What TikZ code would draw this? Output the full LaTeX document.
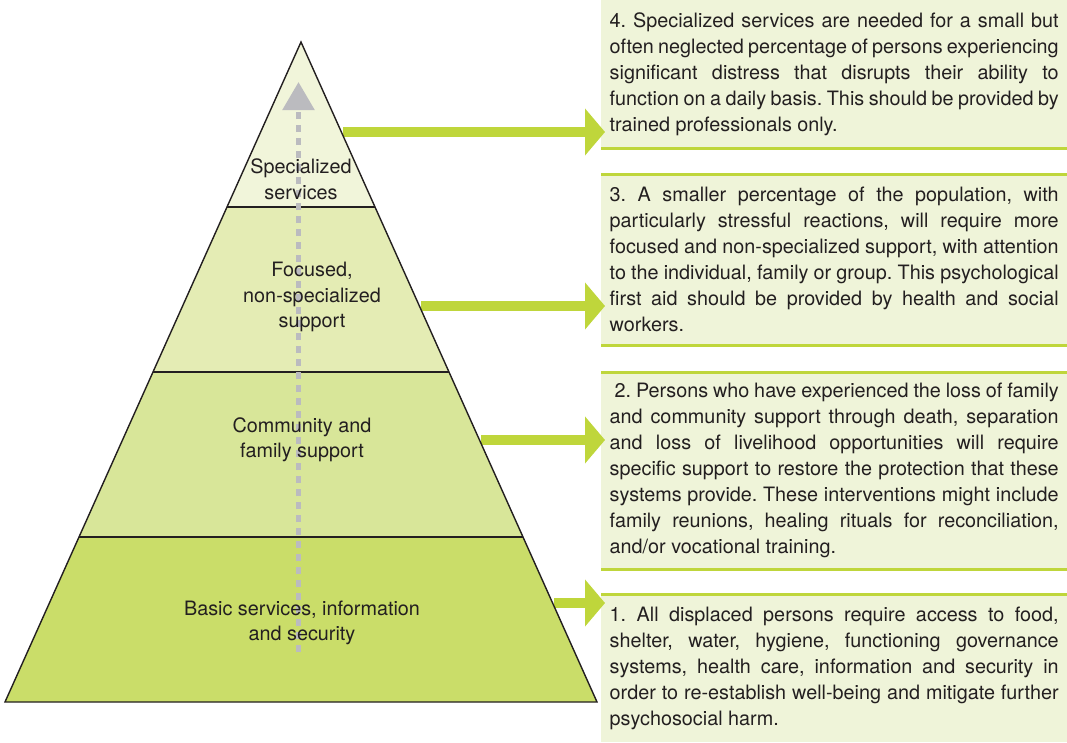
\documentclass[tikz,border=0pt]{standalone}
\usepackage{fontspec}
\setmainfont{TeX Gyre Heros}
\usetikzlibrary{arrows.meta, positioning, calc}
\definecolor{lvlone}{HTML}{F1F5DA}
\definecolor{lvltwo}{HTML}{E4ECB4}
\definecolor{lvlthree}{HTML}{D8E699}
\definecolor{lvlfour}{HTML}{CADD69}
\definecolor{boxfill}{HTML}{EFF4D9}
\definecolor{limegreen}{HTML}{BFD63B}
\definecolor{arrowgray}{HTML}{BBBBBF}
\definecolor{inkgray}{HTML}{231F20}
\frenchspacing

\begin{document}
\begin{tikzpicture}[
    x=1pt, y=-1pt,
    tier/.style={draw=inkgray, line width=1.4pt},
    tierlabel/.style={font=\fontsize{19.8}{25.5}\selectfont, text=inkgray, align=center, inner sep=0pt},
    infobox/.style={anchor=north west, fill=boxfill, minimum width=466pt, text width=449pt, inner xsep=8pt, align=justify, font=\fontsize{19.8}{26}\selectfont, text=inkgray,
        execute at begin node={\frenchspacing\hyphenpenalty=10000\exhyphenpenalty=10000}},
    rule/.style={limegreen, line width=3pt},
    arrow/.style={-{Triangle[length=20pt, width=46pt]}, line width=10pt, limegreen}
]
\useasboundingbox (0,0) rectangle (1067,742);

% Pyramid corners
\coordinate (apex) at (301,42);
\coordinate (bl) at (5,702);
\coordinate (br) at (597,702);

% Tiers, widest first
\foreach \t/\col in {1/lvlfour, 0.75/lvlthree, 0.5/lvltwo, 0.25/lvlone} {
    \fill[\col] (apex) -- ($(apex)!\t!(bl)$) -- ($(apex)!\t!(br)$) -- cycle;
}

% Text boxes
\node[infobox, minimum height=148pt] (b4) at (601,0)
    {4. Specialized services are needed for a small but\linebreak
     often neglected percentage of persons experiencing\linebreak
     significant distress that disrupts their ability to\linebreak
     function on a daily basis. This should be provided by\linebreak
     trained professionals only.};
\node[infobox, minimum height=171pt] (b3) at (601,174)
    {3. A smaller percentage of the population, with\linebreak
     particularly stressful reactions, will require more\linebreak
     focused and non-specialized support, with attention\linebreak
     to the individual, family or group. This psychological\linebreak
     first aid should be provided by health and social\linebreak
     workers.};
\node[infobox, minimum height=197pt] (b2) at (601,372)
    {\hspace*{.25em}2. Persons who have experienced the loss of family\linebreak
     and community support through death, separation\linebreak
     and loss of livelihood opportunities will require\linebreak
     specific support to restore the protection that these\linebreak
     systems provide. These interventions might include\linebreak
     family reunions, healing rituals for reconciliation,\linebreak
     and/or vocational training.};
\node[infobox, minimum height=148pt] (b1) at (601,594)
    {1. All displaced persons require access to food,\linebreak
     shelter, water, hygiene, functioning governance\linebreak
     systems, health care, information and security in\linebreak
     order to re-establish well-being and mitigate further\linebreak
     psychosocial harm.};

% Green rules
\draw[rule] (b4.south west) -- (b4.south east);
\foreach \b in {b3, b2} {
    \draw[rule] (\b.north west) -- (\b.north east);
    \draw[rule] (\b.south west) -- (\b.south east);
}
\draw[rule] (b1.north west) -- (b1.north east);

% Arrows from tiers to boxes
\coordinate (a4) at (343,132);
\coordinate (a3) at (421,306);
\coordinate (a2) at (481,440);
\coordinate (a1) at (554,603);
\foreach \a/\b in {a4/b4, a3/b3, a2/b2, a1/b1} {
    \draw[arrow] (\a) -- ([xshift=4pt]\a -| \b.west);
}

% Outline and dividers
\foreach \t in {0.25, 0.5, 0.75} {
    \draw[tier] ($(apex)!\t!(bl)$) -- ($(apex)!\t!(br)$);
}
\draw[tier] (apex) -- (bl) -- (br) -- cycle;

% Upward gray arrow
\coordinate (up0) at (298.5,652);
\coordinate (up1) at (298.5,82);
\draw[arrowgray, line width=5.5pt, dash pattern=on 7pt off 6pt, -{Triangle[length=28pt, width=31pt]}] (up0) -- (up1);

% Tier labels
\node[tierlabel] (l4) at (301,179) {Specialized\\services};
\node[tierlabel] (l3) at (312,297) {Focused,\\non-specialized\\support};
\node[tierlabel] (l2) at (302,440) {Community and\\family support};
\node[tierlabel] (l1) at (302,623) {Basic services, information\\and security};

\end{tikzpicture}
\end{document}
